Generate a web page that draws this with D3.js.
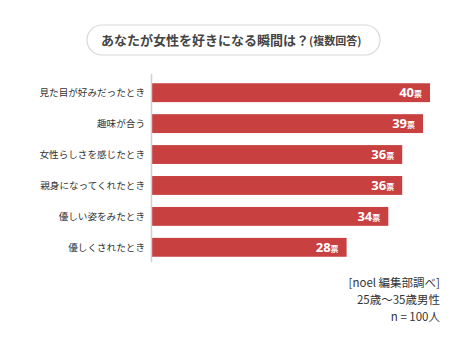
<!DOCTYPE html>
<html><head><meta charset="utf-8">
<script src="https://cdn.jsdelivr.net/npm/d3@7"></script>
<style>
html,body{margin:0;padding:0;background:#fff;}
svg{display:block;font-family:"Noto Sans CJK JP","Noto Sans",sans-serif;}
</style></head>
<body><div id="chart"></div>
<script>
const categories = ["見た目が好みだったとき","趣味が合う","女性らしさを感じたとき","親身になってくれたとき","優しい姿をみたとき","優しくされたとき"];
const values = [40,39,36,36,34,28];
const unit = "票";
const title = "あなたが女性を好きになる瞬間は？";
const subtitle = "(複数回答)";
const notes = ["[noel 編集部調べ]","25歳〜35歳男性","n = 100人"];

const W = 474, H = 355;
const svg = d3.select("#chart").append("svg").attr("width",W).attr("height",H);

// title pill
svg.append("rect").attr("x",87).attr("y",25).attr("width",293).attr("height",30)
  .attr("rx",15).attr("fill","#fff").attr("stroke","#d8d8d8").attr("stroke-width",1.2);
const t = svg.append("text").attr("x",101).attr("y",45).attr("fill","#444").attr("font-weight","bold");
t.append("tspan").attr("font-size",13).text(title);
t.append("tspan").attr("font-size",11).text(subtitle);

const x = d3.scaleLinear().domain([0,40]).range([152,430]);
const y = d3.scaleBand().domain(categories).range([78,262]).paddingInner(0.39).paddingOuter(0.17);

svg.append("g").selectAll("rect").data(values).join("rect")
  .attr("x",x(0)).attr("y",(d,i)=>y(categories[i]))
  .attr("width",d=>x(d)-x(0)).attr("height",y.bandwidth())
  .attr("fill","#c8403f");

// axis line
svg.append("line").attr("x1",151.5).attr("x2",151.5).attr("y1",74).attr("y2",262)
  .attr("stroke","#cfcfcf").attr("stroke-width",1.5);

// category labels
svg.append("g").selectAll("text").data(categories).join("text")
  .attr("x",145).attr("y",d=>y(d)+y.bandwidth()/2+3.5)
  .attr("text-anchor","end").attr("font-size",9.6).attr("fill","#333").text(d=>d);

// value labels
const vl = svg.append("g").selectAll("text").data(values).join("text")
  .attr("x",d=>x(d)-8).attr("y",(d,i)=>y(categories[i])+y.bandwidth()/2+4.8)
  .attr("text-anchor","end").attr("fill","#fff").attr("font-weight","bold");
vl.append("tspan").attr("font-size",13).attr("font-family","'Open Sans',sans-serif").text(d=>d);
vl.append("tspan").attr("font-size",8).text(unit);

// notes
svg.append("g").selectAll("text").data(notes).join("text")
  .attr("x",440).attr("y",(d,i)=>287+i*17)
  .attr("text-anchor","end").attr("font-size",11.5).attr("fill","#333").text(d=>d);
</script></body></html>
